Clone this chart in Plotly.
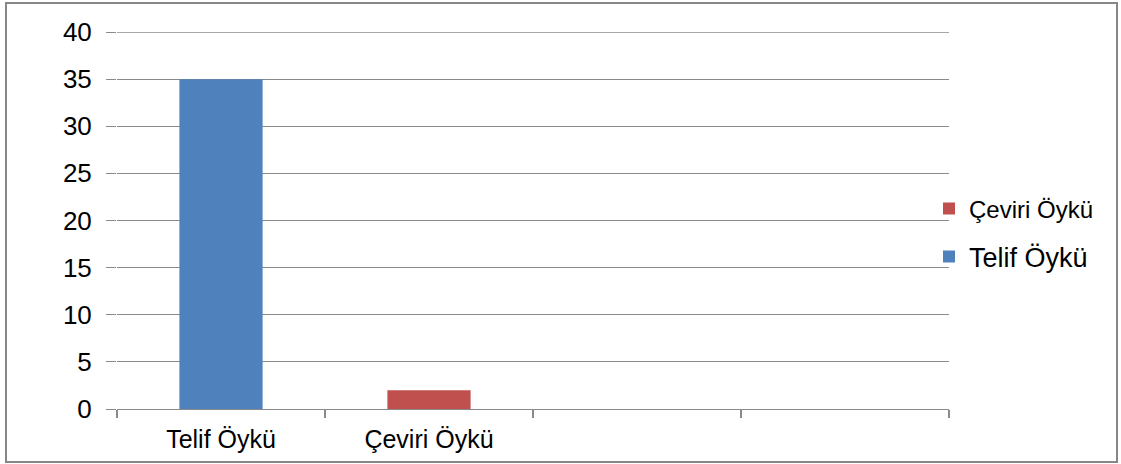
import plotly.graph_objects as go

categories = ["Telif Öykü", "Çeviri Öykü", " ", "  "]
series_names = ["Telif Öykü", "Çeviri Öykü"]
series_values = [35, 2]
series_colors = ["#4F81BD", "#C0504D"]
y_ticks = [0, 5, 10, 15, 20, 25, 30, 35, 40]

W, H = 1121, 464
L, R, T, B = 117, 949, 32, 409
pw, ph = R - L, B - T

def px_x(x):
    return (x - L) / pw

def px_y(y):
    return (B - y) / ph

fig = go.Figure()
legends = ["legend2", "legend"]
for name, val, col, lg in zip(series_names, series_values, series_colors, legends):
    fig.add_trace(go.Bar(
        x=[name], y=[val], name=name, marker=dict(color=col, line=dict(width=0)),
        width=0.4, legend=lg, showlegend=True,
    ))

grid_color = "#8a8a8a"
font_family = "Liberation Sans, Arial, sans-serif"
fig.update_layout(
    width=W, height=H,
    margin=dict(l=L, r=W - R, t=T, b=H - B, pad=0),
    paper_bgcolor="white", plot_bgcolor="white",
    barmode="overlay", showlegend=True,
    font=dict(family=font_family, color="black"),
    xaxis=dict(
        type="category", categoryorder="array", categoryarray=categories,
        range=[-0.5, 3.5], showgrid=False, showline=True, linecolor=grid_color, linewidth=1.3,
        ticks="outside", tickson="boundaries", ticklen=8, tickcolor=grid_color, tickwidth=1.5,
        tickfont=dict(size=25, family=font_family, color="black"), zeroline=False,
        ticklabelstandoff=8,
    ),
    yaxis=dict(
        range=[0, 40], tickvals=y_ticks, showgrid=True, gridcolor=grid_color, gridwidth=1.3,
        ticks="outside", ticklen=10, tickcolor=grid_color, tickwidth=1.3, showline=False,
        zeroline=False, tickfont=dict(size=26, family=font_family, color="black"),
        ticklabelstandoff=9,
    ),
    legend=dict(
        x=px_x(929), y=px_y(209), xanchor="left", yanchor="middle",
        font=dict(size=24, family=font_family, color="black"), bgcolor="rgba(0,0,0,0)",
        itemwidth=30,
    ),
    legend2=dict(
        x=px_x(929), y=px_y(257), xanchor="left", yanchor="middle",
        font=dict(size=27, family=font_family, color="black"), bgcolor="rgba(0,0,0,0)",
        itemwidth=30,
    ),
    shapes=[
        dict(
            type="rect", xref="paper", yref="paper",
            x0=px_x(6), x1=px_x(1117), y0=px_y(462), y1=px_y(3),
            line=dict(color="#878787", width=2), fillcolor="rgba(0,0,0,0)", layer="below",
        ),
        dict(
            type="line", xref="paper", yref="y", x0=0, x1=1, y0=y_ticks[-1], y1=y_ticks[-1],
            line=dict(color=grid_color, width=1.3), layer="below",
        ),
    ],
)

fig.write_html(
    "out.html",
    config={"displayModeBar": False},
    post_script="document.body.style.margin='0';document.body.style.overflow='hidden';",
)
